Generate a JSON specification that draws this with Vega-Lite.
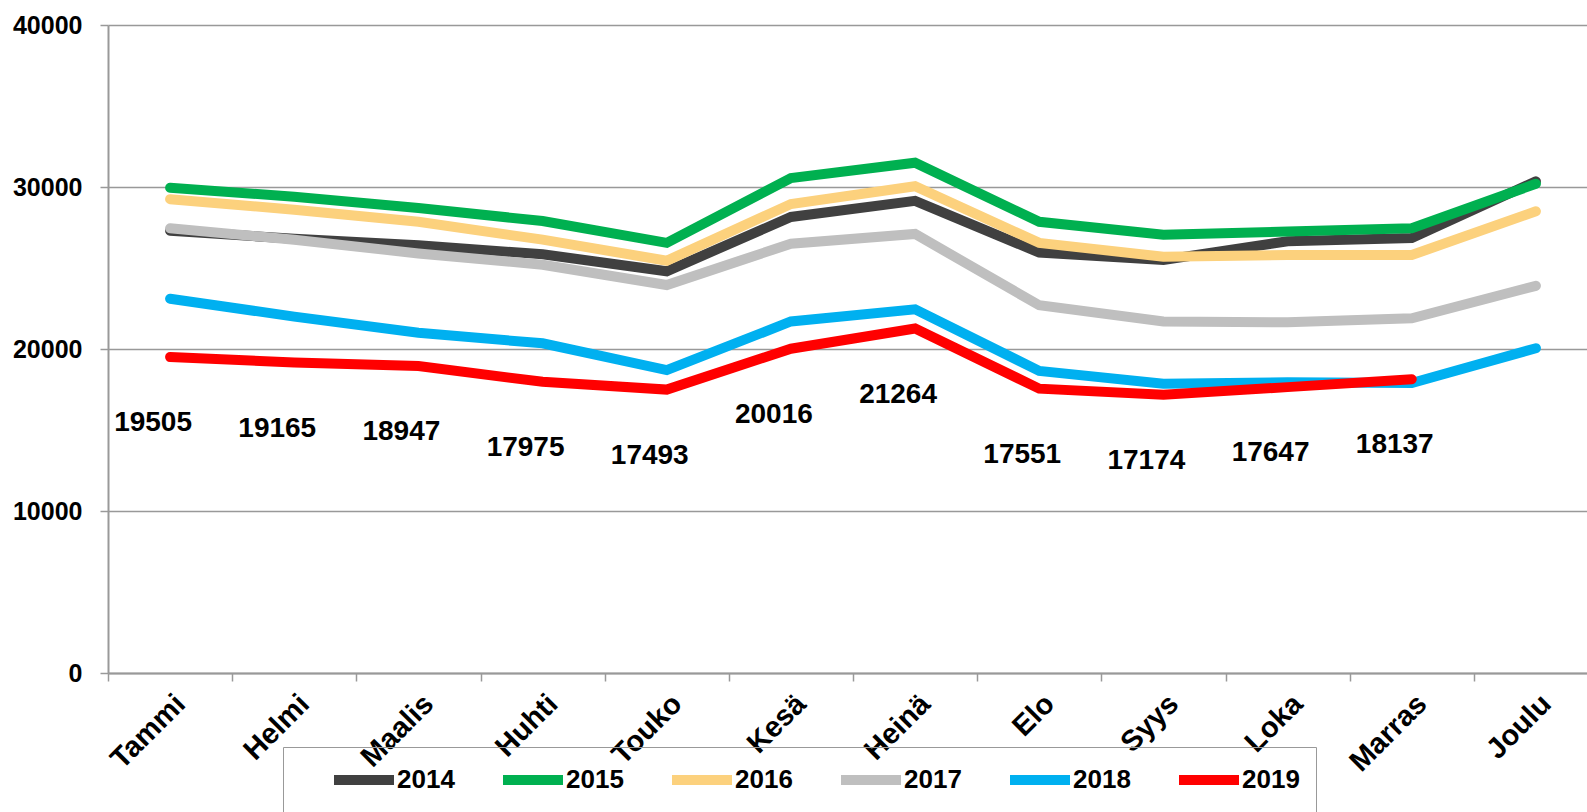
{
  "$schema": "https://vega.github.io/schema/vega-lite/v6.json",
  "width": 1479,
  "height": 648,
  "autosize": {"type": "none"},
  "padding": {"left": 108, "top": 25, "right": 0, "bottom": 139},
  "background": "white",
  "config": {"view": {"stroke": null}, "font": "Liberation Sans"},
  "data": {"values": [
    {"month": "Tammi", "year": "2014", "value": 27300},
    {"month": "Helmi", "year": "2014", "value": 26800},
    {"month": "Maalis", "year": "2014", "value": 26400},
    {"month": "Huhti", "year": "2014", "value": 25850},
    {"month": "Touko", "year": "2014", "value": 24800},
    {"month": "Kesä", "year": "2014", "value": 28150},
    {"month": "Heinä", "year": "2014", "value": 29150},
    {"month": "Elo", "year": "2014", "value": 25950},
    {"month": "Syys", "year": "2014", "value": 25500},
    {"month": "Loka", "year": "2014", "value": 26650},
    {"month": "Marras", "year": "2014", "value": 26850},
    {"month": "Joulu", "year": "2014", "value": 30350},
    {"month": "Tammi", "year": "2015", "value": 29950},
    {"month": "Helmi", "year": "2015", "value": 29400},
    {"month": "Maalis", "year": "2015", "value": 28700},
    {"month": "Huhti", "year": "2015", "value": 27900},
    {"month": "Touko", "year": "2015", "value": 26550},
    {"month": "Kesä", "year": "2015", "value": 30550},
    {"month": "Heinä", "year": "2015", "value": 31500},
    {"month": "Elo", "year": "2015", "value": 27850},
    {"month": "Syys", "year": "2015", "value": 27050},
    {"month": "Loka", "year": "2015", "value": 27250},
    {"month": "Marras", "year": "2015", "value": 27450},
    {"month": "Joulu", "year": "2015", "value": 30200},
    {"month": "Tammi", "year": "2016", "value": 29250},
    {"month": "Helmi", "year": "2016", "value": 28600},
    {"month": "Maalis", "year": "2016", "value": 27850},
    {"month": "Huhti", "year": "2016", "value": 26750},
    {"month": "Touko", "year": "2016", "value": 25450},
    {"month": "Kesä", "year": "2016", "value": 28950},
    {"month": "Heinä", "year": "2016", "value": 30050},
    {"month": "Elo", "year": "2016", "value": 26550},
    {"month": "Syys", "year": "2016", "value": 25700},
    {"month": "Loka", "year": "2016", "value": 25800},
    {"month": "Marras", "year": "2016", "value": 25800},
    {"month": "Joulu", "year": "2016", "value": 28500},
    {"month": "Tammi", "year": "2017", "value": 27450},
    {"month": "Helmi", "year": "2017", "value": 26750},
    {"month": "Maalis", "year": "2017", "value": 25900},
    {"month": "Huhti", "year": "2017", "value": 25200},
    {"month": "Touko", "year": "2017", "value": 23950},
    {"month": "Kesä", "year": "2017", "value": 26500},
    {"month": "Heinä", "year": "2017", "value": 27100},
    {"month": "Elo", "year": "2017", "value": 22700},
    {"month": "Syys", "year": "2017", "value": 21700},
    {"month": "Loka", "year": "2017", "value": 21650},
    {"month": "Marras", "year": "2017", "value": 21900},
    {"month": "Joulu", "year": "2017", "value": 23900},
    {"month": "Tammi", "year": "2018", "value": 23100},
    {"month": "Helmi", "year": "2018", "value": 22000},
    {"month": "Maalis", "year": "2018", "value": 21000},
    {"month": "Huhti", "year": "2018", "value": 20350},
    {"month": "Touko", "year": "2018", "value": 18700},
    {"month": "Kesä", "year": "2018", "value": 21700},
    {"month": "Heinä", "year": "2018", "value": 22450},
    {"month": "Elo", "year": "2018", "value": 18650},
    {"month": "Syys", "year": "2018", "value": 17850},
    {"month": "Loka", "year": "2018", "value": 17950},
    {"month": "Marras", "year": "2018", "value": 17900},
    {"month": "Joulu", "year": "2018", "value": 20050},
    {"month": "Tammi", "year": "2019", "value": 19505},
    {"month": "Helmi", "year": "2019", "value": 19165},
    {"month": "Maalis", "year": "2019", "value": 18947},
    {"month": "Huhti", "year": "2019", "value": 17975},
    {"month": "Touko", "year": "2019", "value": 17493},
    {"month": "Kesä", "year": "2019", "value": 20016},
    {"month": "Heinä", "year": "2019", "value": 21264},
    {"month": "Elo", "year": "2019", "value": 17551},
    {"month": "Syys", "year": "2019", "value": 17174},
    {"month": "Loka", "year": "2019", "value": 17647},
    {"month": "Marras", "year": "2019", "value": 18137}
  ]},
  "encoding": {
    "x": {
      "field": "month", "type": "nominal", "sort": null,
      "scale": {"type": "band", "range": [0, 1490], "paddingInner": 0, "paddingOuter": 0},
      "axis": {
        "title": null, "labelAngle": -45, "labelFontSize": 29, "labelFontWeight": "bold",
        "labelColor": "black", "tickBand": "extent", "tickSize": 8, "tickColor": "#999999",
        "tickWidth": 1.5, "domainColor": "#999999", "domainWidth": 2, "grid": false, "labelPadding": 8
      }
    },
    "y": {
      "field": "value", "type": "quantitative",
      "scale": {"domain": [0, 40000], "nice": false},
      "axis": {
        "title": null, "values": [0, 10000, 20000, 30000, 40000], "format": "d",
        "labelFontSize": 25, "labelFontWeight": "bold", "labelColor": "black",
        "tickSize": 8, "tickColor": "#999999", "tickWidth": 1.5, "domainColor": "#999999", "domainWidth": 2,
        "gridColor": "#999999", "gridWidth": 1.5, "labelPadding": 18
      }
    }
  },
  "layer": [
    {
      "mark": {"type": "line", "strokeWidth": 10, "strokeCap": "round"},
      "encoding": {
        "color": {
          "field": "year", "type": "nominal",
          "scale": {"domain": ["2014", "2015", "2016", "2017", "2018", "2019"],
                    "range": ["#404040", "#00B050", "#FCD17D", "#BFBFBF", "#00B0F0", "#FF0000"]},
          "legend": {
            "title": null, "orient": "none", "legendX": 175, "legendY": 722,
            "direction": "horizontal", "columns": 6, "symbolType": "M-2.5,0H2.5",
            "symbolSize": 576, "symbolStrokeWidth": 10, "symbolOffset": 48, "labelOffset": 16,
            "labelFontSize": 26, "labelFontWeight": "bold", "labelColor": "black",
            "columnPadding": 13, "padding": 16, "strokeColor": "#999999"
          }
        }
      }
    },
    {
      "transform": [{"filter": "datum.year == '2019'"}],
      "mark": {"type": "text", "fontSize": 28, "fontWeight": "bold", "color": "black", "dy": 66, "dx": -17},
      "encoding": {"text": {"field": "value", "type": "quantitative", "format": "d"}}
    }
  ]
}
